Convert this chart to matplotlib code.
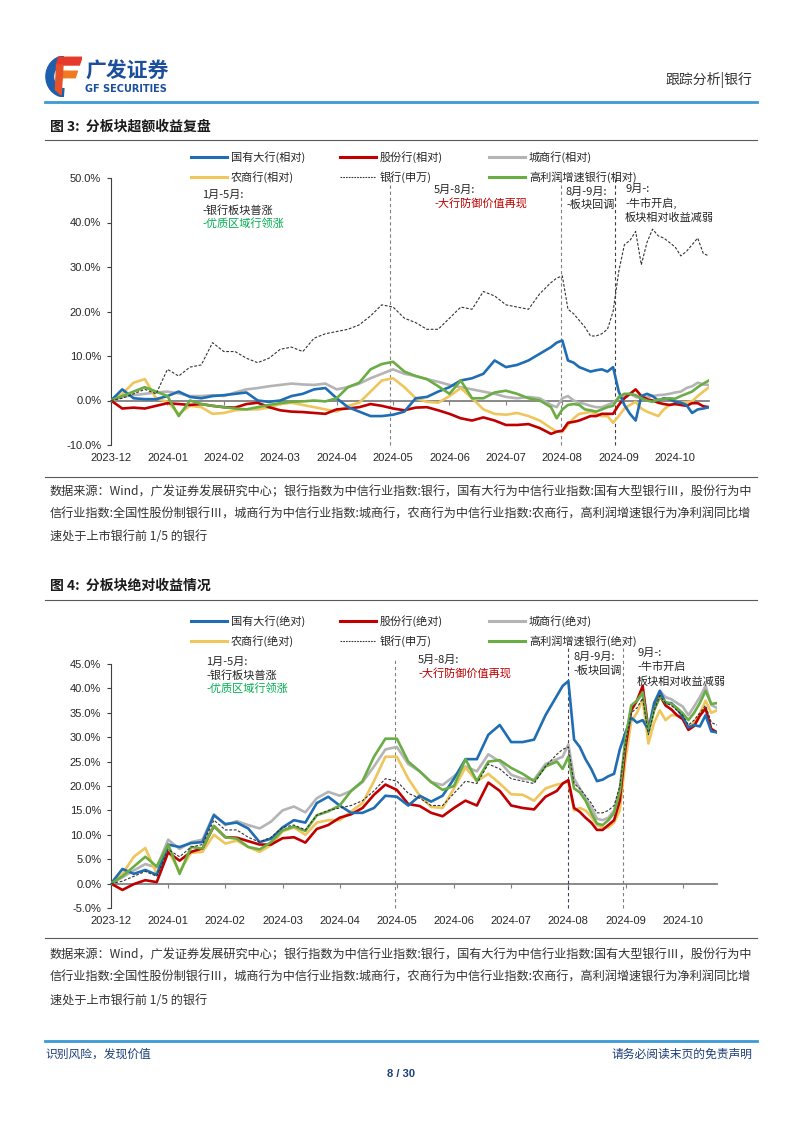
import matplotlib.pyplot as plt
from matplotlib.lines import Line2D
from matplotlib.patches import Wedge, Polygon
from matplotlib.ticker import FuncFormatter

plt.rcParams['font.family'] = ['Noto Sans CJK SC', 'DejaVu Sans']

W, H = 802, 1133

# trading-day index of every sample (category axis, a label every 20 days)
t = list(range(0, 157, 4)) + list(range(158, 213, 2))
month_pos = list(range(0, 201, 20))
month_labels = ['2023-12', '2024-01', '2024-02', '2024-03', '2024-04', '2024-05',
                '2024-06', '2024-07', '2024-08', '2024-09', '2024-10']

# 银行(申万), cumulative return %
bank = [0, 0.5, 1.5, 2.5, 1.5, 7.0, 5.5, 7.5, 8.0, 13.0, 11.0, 11.0, 9.5, 8.5, 9.5, 11.5,
        12.0, 11.0, 14.0, 15.0, 15.5, 16.0, 17.0, 19.0, 21.5, 21.0, 18.5, 17.5, 16.0, 16.0,
        18.5, 21.0, 20.5, 24.5, 23.5, 21.5, 21.0, 20.5, 24.0, 26.5,
        27.5, 28.0, 20.5, 19.5, 18.0, 16.5, 14.5, 14.5, 15.0, 16.0, 20.0, 29.0, 35.0, 36.0,
        38.0, 30.5, 35.5, 38.5, 37.0, 36.5, 35.5, 34.5, 32.5, 33.5, 35.0, 36.5, 33.0, 32.5]

# excess returns vs 银行(申万), %
big_rel = [0, 2.5, 0.5, 0.3, 0.3, 1.0, 2.0, 0.8, 0.5, 1.0, 1.2, 1.5, 1.8, 0.0, -0.3, 0.0,
           1.0, 1.5, 2.5, 2.8, 0.5, -1.5, -2.5, -3.5, -3.5, -3.2, -2.5, 0.5, 0.8, 2.0,
           3.0, 4.5, 5.0, 6.0, 9.0, 7.5, 8.0, 9.0, 10.5, 12.0,
           13.0, 13.5, 9.0, 8.5, 7.5, 7.0, 6.5, 6.8, 7.0, 6.5, 7.5, 2.0, -1.0, -3.0,
           -4.5, 1.0, 1.5, 1.0, 0.0, 0.5, 0.3, -0.3, -0.5, -1.0, -2.8, -2.0, -1.8, -1.5]
jsb_rel = [0, -1.8, -1.6, -1.8, -1.2, -0.6, -0.8, -1.0, -0.8, -1.2, -1.5, -1.6, -0.8, -0.5,
           -1.5, -2.2, -2.5, -2.6, -2.8, -3.0, -2.0, -1.8, -1.5, -0.8, -1.2, -1.8, -2.2,
           -1.6, -1.5, -2.2, -3.0, -4.0, -4.5, -3.8, -4.5, -5.5, -5.5, -5.3, -6.2, -7.5,
           -7.0, -6.8, -5.0, -4.8, -4.5, -4.0, -3.5, -3.5, -3.0, -3.0, -3.0, -1.0, 0.5, 1.5,
           2.5, 1.0, 0.3, 0.0, -0.5, -0.8, -1.0, -0.8, -1.0, -1.2, -0.6, -0.6, -1.3, -1.5]
city_rel = [0, 0.8, 1.2, 1.5, 1.8, 2.0, 1.6, 1.0, 1.0, 1.2, 1.0, 1.8, 2.5, 2.8, 3.2, 3.5,
            3.8, 3.6, 3.5, 3.8, 2.5, 3.0, 3.8, 5.0, 6.0, 7.0, 6.0, 5.5, 4.8, 4.2, 3.5, 3.0,
            2.5, 2.0, 1.5, 0.8, 0.5, 0.8, 0.5, -1.0,
            -1.5, 0.5, 1.0, 0.0, -0.5, -0.8, -1.2, -1.5, -1.5, -1.0, -0.5, 0.5, 1.0, 1.5,
            0.8, 0.5, 0.8, 1.0, 1.2, 1.3, 1.5, 1.8, 2.0, 2.8, 3.2, 4.0, 3.6, 3.5]
rural_rel = [0, 1.5, 4.0, 4.8, 0.5, -0.3, -3.0, -1.2, -1.5, -3.0, -2.8, -2.2, -2.0, -2.0,
             -1.6, -0.8, -0.5, -1.0, -1.5, -2.0, -2.5, -1.2, -0.5, 2.0, 4.5, 5.0, 3.0, 0.5,
             -0.3, -0.5, 1.0, 2.8, 0.5, -2.0, -3.0, -3.2, -2.8, -3.5, -4.5, -6.2,
             -7.0, -7.0, -5.5, -4.0, -3.0, -2.8, -2.5, -3.0, -3.5, -3.5, -5.0, -3.5, -1.8,
             -1.0, -0.3, -1.8, -2.5, -3.0, -3.5, -2.0, -1.0, -0.6, -0.5, -0.4, -0.2, 1.0,
             2.0, 3.0]
growth_rel = [0, 1.0, 2.0, 3.0, 2.0, 1.0, -3.5, 0.0, -0.8, -1.2, -1.5, -1.8, -2.0, -1.5,
              -1.0, -0.6, -0.3, -0.2, 0.0, -0.2, 0.5, 3.0, 4.0, 7.0, 8.2, 8.7, 6.5, 5.5,
              4.8, 3.2, 1.5, 4.5, 0.5, 0.5, 1.8, 2.2, 1.5, 0.5, 0.0, -1.5,
              -4.0, -2.0, -1.0, -0.8, -1.0, -2.0, -2.2, -2.5, -2.0, -1.5, -1.2, 0.8, 1.5,
              1.5, 1.2, 0.5, 0.0, -0.3, 0.2, 0.3, 0.5, 0.4, 1.0, 1.5, 2.0, 3.0, 3.8, 4.5]

# 图4 absolute return = excess return + 银行(申万)
def absolute(rel):
    return [r + b for r, b in zip(rel, bank)]

BLUE, RED, GRAY, YEL, GREEN = '#1f6db3', '#c00000', '#b4b4b4', '#efc65c', '#6aad45'
NAVY = '#1b3f7a'


def fx(x):
    return x / W


def fy(y):
    return 1 - y / H


fig = plt.figure(figsize=(W / 100, H / 100), dpi=100)


def hline(x0, x1, y, color, lw):
    fig.add_artist(Line2D([fx(x0), fx(x1)], [fy(y), fy(y)], color=color, lw=lw))


def text(x, y, s, **kw):
    kw.setdefault('va', 'center')
    kw.setdefault('fontsize', 8)
    fig.text(fx(x), fy(y), s, **kw)


# ---- header ----
logo = fig.add_axes([fx(44), fy(97), 38 / W, 41 / H])
logo.set_xlim(0, 1)
logo.set_ylim(0, 1)
logo.axis('off')
logo.add_patch(Wedge((0.55, 0.5), 0.5, 95, 265, width=0.2, color='#1d5fad'))
logo.add_patch(Polygon([(0.38, 0.97), (1.0, 0.97), (0.93, 0.78), (0.33, 0.78)], color='#e53a2b'))
logo.add_patch(Polygon([(0.45, 0.63), (0.88, 0.63), (0.82, 0.47), (0.42, 0.47)], color='#f07a1f'))
logo.add_patch(Polygon([(0.33, 0.78), (0.5, 0.78), (0.45, 0.05), (0.3, 0.18)], color='#e8502a'))
text(85, 71, '广发证券', fontsize=15, fontweight='bold', color='#1b4f9c')
text(85, 89, 'GF SECURITIES', fontsize=7, fontweight='bold', color='#1b4f9c',
     family='DejaVu Sans')
text(752, 80, '跟踪分析|银行', fontsize=10, color='#333333', ha='right')
hline(45, 757, 102, '#3a9bd5', 2)

# ---- footer ----
hline(45, 757, 1041, '#3a9bd5', 2)
text(45, 1054, '识别风险，发现价值', fontsize=8.5, color=NAVY)
text(752, 1054, '请务必阅读末页的免责声明', fontsize=8.5, color=NAVY, ha='right')
text(401, 1074, '8 / 30', fontsize=8, color=NAVY, ha='center', family='Liberation Sans',
     fontweight='bold')


def legend(y1, y2, entries):
    cols = [191, 340, 489]
    for i, (lab, color, ls, lw) in enumerate(entries):
        r, c = divmod(i, 3)
        y = [y1, y2][r]
        fig.add_artist(Line2D([fx(cols[c]), fx(cols[c] + 36)], [fy(y)] * 2,
                              color=color, lw=lw, ls=ls))
        text(cols[c] + 40, y, lab, color='#262626')


def chart(rect, series, ylo, yhi, ystep, vlines):
    ax = fig.add_axes(rect)
    for vals, color, lw, ls, z in series:
        ax.plot(t, vals, color=color, lw=lw, ls=ls, zorder=z)
    ax.set_xlim(0, 212)
    ax.set_ylim(ylo, yhi)
    ax.set_yticks([ylo + i * ystep for i in range(int((yhi - ylo) / ystep) + 1)])
    ax.yaxis.set_major_formatter(FuncFormatter(lambda v, _: f'{v:.1f}%'))
    ax.set_xticks(month_pos, month_labels)
    ax.tick_params(axis='x', length=0, pad=6)
    ax.tick_params(axis='y', length=3, width=0.8, color='#404040', pad=4)
    ax.tick_params(labelsize=8, labelcolor='#262626', labelfontfamily='Liberation Sans')
    for s in ['top', 'right', 'bottom']:
        ax.spines[s].set_visible(False)
    ax.spines['left'].set_color('#404040')
    ax.spines['left'].set_linewidth(0.8)
    for xv, c, top in vlines:
        ax.axvline(xv, ymin=0, ymax=top, color=c, lw=0.8, ls=(0, (3, 2.5)),
                   clip_on=False, zorder=1)
    sec = ax.secondary_xaxis(0, transform=ax.transData)
    sec.set_xticks(month_pos)
    sec.tick_params(length=3, width=0.8, color='#808080', labelbottom=False)
    sec.spines['bottom'].set_color('#808080')
    sec.spines['bottom'].set_linewidth(1.3)
    return ax


notes = ['数据来源：Wind，广发证券发展研究中心；银行指数为中信行业指数:银行，国有大行为中信行业指数:国有大型银行Ⅲ，股份行为中',
         '信行业指数:全国性股份制银行Ⅲ，城商行为中信行业指数:城商行，农商行为中信行业指数:农商行，高利润增速银行为净利润同比增',
         '速处于上市银行前 1/5 的银行']

# ---- 图3 ----
text(50, 127, '图 3:  分板块超额收益复盘', fontsize=10, fontweight='bold', color='#1a1a1a')
hline(45, 757, 140, '#595959', 0.8)
legend(157, 177, [('国有大行(相对)', BLUE, '-', 2.2), ('股份行(相对)', RED, '-', 2.2),
                  ('城商行(相对)', GRAY, '-', 2.2), ('农商行(相对)', YEL, '-', 2.2),
                  ('银行(申万)', '#333333', (0, (1.5, 1)), 0.8),
                  ('高利润增速银行(相对)', GREEN, '-', 2.2)])
chart([fx(111), fy(445), 598 / W, 267 / H],
      [(city_rel, GRAY, 1.9, '-', 3), (rural_rel, YEL, 1.9, '-', 4),
       (jsb_rel, RED, 1.9, '-', 5), (big_rel, BLUE, 1.9, '-', 6),
       (growth_rel, GREEN, 1.9, '-', 7), (bank, '#333333', 0.8, (0, (2.5, 1.5)), 8)],
      -10, 50, 10,
      [(99, '#808080', 1.0), (159.5, '#808080', 1.0), (178.5, '#404040', 1.0)])
GREEN_TXT, RED_TXT = '#00b050', '#c00000'
for x, y, s, c in [(202, 195, '1月-5月:', '#262626'), (202, 210, '-银行板块普涨', '#262626'),
                   (202, 224, '-优质区域行领涨', GREEN_TXT),
                   (434, 190, '5月-8月:', '#262626'), (434, 204, '-大行防御价值再现', RED_TXT),
                   (566, 192, '8月-9月:', '#262626'), (566, 205, '-板块回调', '#262626'),
                   (625, 189, '9月-:', '#262626'), (625, 203, '-牛市开启,', '#262626'),
                   (625, 218, '板块相对收益减弱', '#262626')]:
    text(x, y, s, color=c)
hline(45, 757, 477, '#595959', 0.8)
for i, s in enumerate(notes):
    text(50, 492 + i * 22.5, s, fontsize=8.75, color='#333333')

# ---- 图4 ----
text(50, 586, '图 4:  分板块绝对收益情况', fontsize=10, fontweight='bold', color='#1a1a1a')
hline(45, 757, 600, '#595959', 0.8)
legend(621, 641, [('国有大行(绝对)', BLUE, '-', 2.2), ('股份行(绝对)', RED, '-', 2.2),
                  ('城商行(绝对)', GRAY, '-', 2.2), ('农商行(绝对)', YEL, '-', 2.2),
                  ('银行(申万)', '#333333', (0, (1.5, 1)), 0.8),
                  ('高利润增速银行(绝对)', GREEN, '-', 2.2)])
chart([fx(111), fy(908), 606 / W, 244 / H],
      [(absolute(city_rel), GRAY, 1.9, '-', 3), (absolute(rural_rel), YEL, 1.9, '-', 4),
       (absolute(jsb_rel), RED, 1.9, '-', 5), (absolute(big_rel), BLUE, 1.9, '-', 6),
       (absolute(growth_rel), GREEN, 1.9, '-', 7), (bank, '#333333', 0.8, (0, (2.5, 1.5)), 8)],
      -5, 45, 5,
      [(99.5, '#808080', 1.016), (160, '#4a3d5c', 1.075), (179, '#808080', 1.065)])
for x, y, s, c in [(206, 662, '1月-5月:', '#262626'), (206, 675, '-银行板块普涨', '#262626'),
                   (206, 689, '-优质区域行领涨', GREEN_TXT),
                   (418, 660, '5月-8月:', '#262626'), (418, 674, '-大行防御价值再现', RED_TXT),
                   (573, 657, '8月-9月:', '#262626'), (573, 671, '-板块回调', '#262626'),
                   (637, 653, '9月-:', '#262626'), (637, 667, '-牛市开启', '#262626'),
                   (637, 682, '板块相对收益减弱', '#262626')]:
    text(x, y, s, color=c)
hline(45, 757, 938, '#595959', 0.8)
for i, s in enumerate(notes):
    text(50, 955 + i * 22.5, s, fontsize=8.75, color='#333333')

fig.savefig('out.png', dpi=100)
